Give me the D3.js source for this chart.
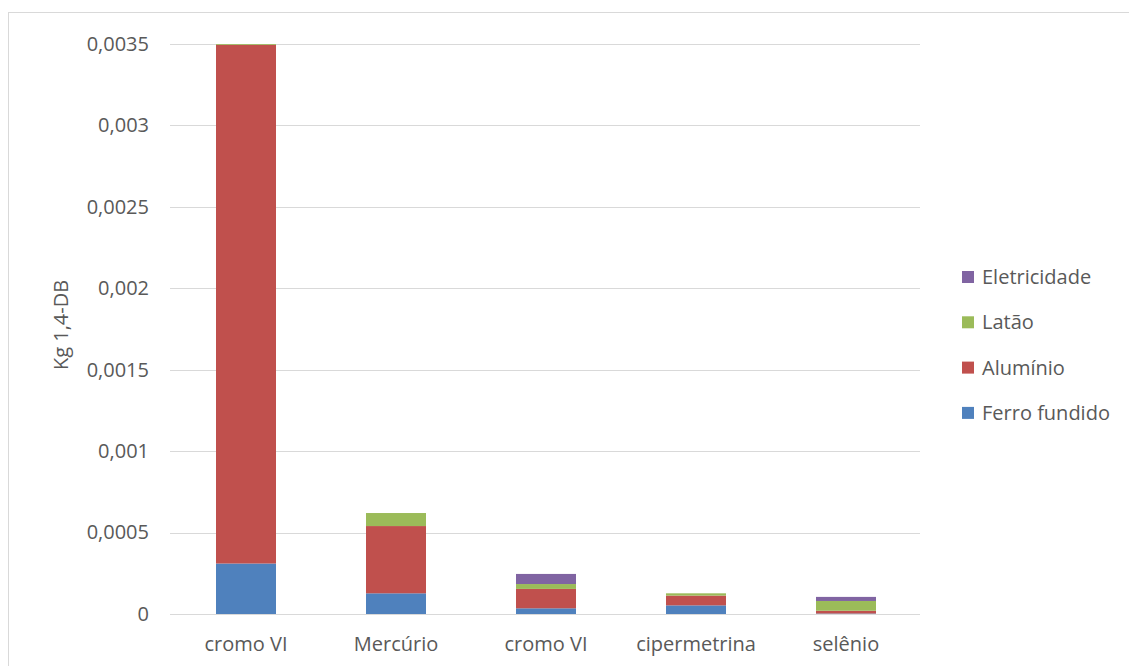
<!DOCTYPE html>
<html>
<head>
<meta charset="utf-8">
<script src="https://cdn.jsdelivr.net/npm/d3@7"></script>
<style>
  body { margin: 0; background: #fff; }
  svg text { font-family: "Open Sans", "DejaVu Sans", sans-serif; fill: #595959; }
</style>
</head>
<body>
<svg id="chart" width="1129" height="666"></svg>
<script>
// Categories along the x axis
const categories = ["cromo VI", "Mercúrio", "cromo VI", "cipermetrina", "selênio"];

// Stacked series, bottom to top (kg 1,4-DB)
const ferroFundido = [0.00031, 0.000127, 0.000035, 0.000053, 0.000003];
const aluminio     = [0.003185, 0.000413, 0.000119, 0.00006, 0.000017];
const latao        = [0.000005, 0.00008, 0.00003, 0.000014, 0.00006];
const eletricidade = [0.0, 0.0, 0.000062, 0.0, 0.000025];

const seriesNames  = ["Ferro fundido", "Alumínio", "Latão", "Eletricidade"];
const seriesColors = ["#4F81BD", "#C0504D", "#9BBB59", "#8064A2"];

const yTicks = [0, 0.0005, 0.001, 0.0015, 0.002, 0.0025, 0.003, 0.0035];
const yTitle = "Kg 1,4-DB";

const FONT_SIZE = 20;

const svg = d3.select("#chart");

// Outer chart border
svg.append("rect")
  .attr("x", 8.5).attr("y", 12.5)
  .attr("width", 1140).attr("height", 700)
  .attr("fill", "none").attr("stroke", "#d9d9d9");

const plot = { left: 171, right: 921, top: 44, bottom: 614 };

const rows = categories.map((c, i) => ({
  key: i,
  "Ferro fundido": ferroFundido[i],
  "Alumínio": aluminio[i],
  "Latão": latao[i],
  "Eletricidade": eletricidade[i]
}));

const x = d3.scaleBand()
  .domain(rows.map(d => d.key))
  .range([plot.left, plot.right])
  .paddingInner(0.6)
  .paddingOuter(0.3);

const y = d3.scaleLinear()
  .domain([0, 0.0035])
  .range([plot.bottom, plot.top]);

// Horizontal gridlines
svg.append("g")
  .selectAll("line")
  .data(yTicks)
  .join("line")
  .attr("x1", plot.left - 1).attr("x2", plot.right - 1)
  .attr("y1", d => Math.round(y(d)) + 0.5)
  .attr("y2", d => Math.round(y(d)) + 0.5)
  .attr("stroke", "#d9d9d9")
  .attr("stroke-width", 1);

// Y axis tick labels
const fmt = d => String(d).replace(".", ",");
const yAxis = d3.axisLeft(y).tickValues(yTicks).tickFormat(fmt).tickSize(0).tickPadding(0);
const gy = svg.append("g")
  .attr("transform", `translate(${plot.left - 22},0)`)
  .call(yAxis);
gy.select(".domain").remove();
gy.selectAll("text")
  .attr("font-size", FONT_SIZE)
  .attr("fill", "#595959")
  .attr("font-family", "Open Sans, sans-serif");

// Y axis title
svg.append("text")
  .attr("transform", `translate(68,325) rotate(-90)`)
  .attr("text-anchor", "middle")
  .attr("font-size", FONT_SIZE)
  .text(yTitle);

// Stacked bars
const stack = d3.stack().keys(seriesNames);
const layers = stack(rows);

svg.append("g")
  .selectAll("g")
  .data(layers)
  .join("g")
  .attr("fill", (d, i) => seriesColors[i])
  .selectAll("rect")
  .data(d => d)
  .join("rect")
  .attr("x", d => x(d.data.key))
  .attr("width", x.bandwidth())
  .attr("y", d => y(d[1]))
  .attr("height", d => Math.max(0, y(d[0]) - y(d[1])));

// X axis baseline
svg.append("line")
  .attr("x1", plot.left - 1).attr("x2", plot.right - 1)
  .attr("y1", plot.bottom + 0.5).attr("y2", plot.bottom + 0.5)
  .attr("stroke", "#d9d9d9");

// X axis category labels
const xAxis = d3.axisBottom(x).tickFormat(i => categories[i]).tickSize(0).tickPadding(0);
const gx = svg.append("g")
  .attr("transform", `translate(0,651)`)
  .call(xAxis);
gx.select(".domain").remove();
gx.selectAll("text")
  .attr("y", 0)
  .attr("dy", 0)
  .attr("font-size", FONT_SIZE)
  .attr("fill", "#595959")
  .attr("font-family", "Open Sans, sans-serif");

// Legend (reverse of stacking order)
const legendOrder = seriesNames.map((n, i) => ({ name: n, color: seriesColors[i] })).reverse();
const lg = svg.append("g").attr("transform", "translate(962,277)");
const item = lg.selectAll("g")
  .data(legendOrder)
  .join("g")
  .attr("transform", (d, i) => `translate(0,${i * 45.3})`);
item.append("rect")
  .attr("x", 0).attr("y", -6)
  .attr("width", 12).attr("height", 12)
  .attr("fill", d => d.color);
item.append("text")
  .attr("x", 20).attr("y", 0)
  .attr("dy", "0.35em")
  .attr("font-size", FONT_SIZE)
  .text(d => d.name);
</script>
</body>
</html>
